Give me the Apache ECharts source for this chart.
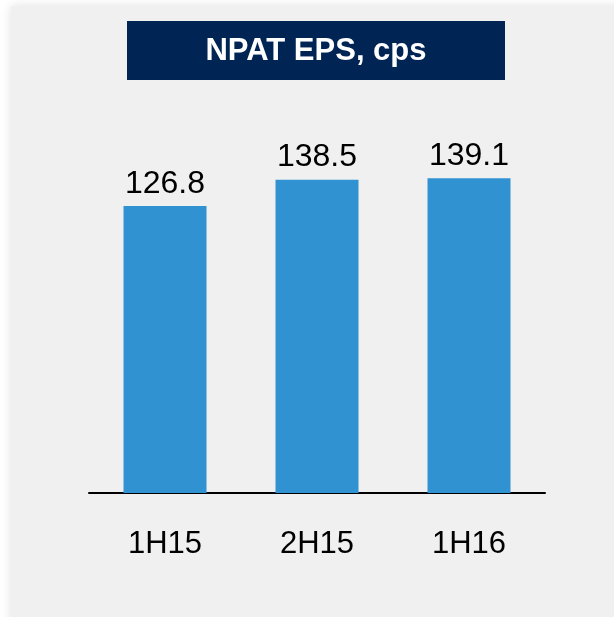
<!DOCTYPE html>
<html>
<head>
<meta charset="utf-8">
<script src="https://cdn.jsdelivr.net/npm/echarts@6/dist/echarts.min.js"></script>
<style>
  html, body { margin: 0; padding: 0; background: #ffffff; }
  #main { width: 614px; height: 617px; }
</style>
</head>
<body>
<div id="main"></div>
<script>
var categories = ['1H15', '2H15', '1H16'];
var epsValues = [126.8, 138.5, 139.1];
var chartTitle = 'NPAT EPS, cps';

var myChart = echarts.init(document.getElementById('main'));
var option = {
    backgroundColor: '#ffffff',
    animation: false,
    graphic: [
        {
            type: 'rect',
            z: -10,
            shape: { x: 11, y: 6, width: 620, height: 620 },
            style: {
                fill: '#f0f0f0',
                shadowBlur: 10,
                shadowColor: 'rgba(0,0,0,0.12)'
            }
        },
        {
            type: 'rect',
            shape: { x: 127, y: 21, width: 378, height: 59 },
            style: { fill: '#002454' }
        },
        {
            type: 'text',
            x: 316,
            y: 51,
            style: {
                text: chartTitle,
                fill: '#ffffff',
                font: 'bold 31px "Liberation Sans", Arial, sans-serif',
                textAlign: 'center',
                textVerticalAlign: 'middle'
            }
        }
    ],
    grid: {
        left: 89,
        right: 69,
        top: 131,
        bottom: 124
    },
    xAxis: {
        type: 'category',
        data: categories,
        axisLine: { lineStyle: { color: '#000000', width: 2 } },
        axisTick: { show: false },
        axisLabel: {
            margin: 36,
            color: '#000000',
            fontSize: 31,
            fontFamily: '"Liberation Sans", Arial, sans-serif'
        }
    },
    yAxis: {
        type: 'value',
        min: 0,
        max: 160,
        show: false,
        splitLine: { show: false }
    },
    series: [{
        type: 'bar',
        data: epsValues,
        barWidth: 83,
        itemStyle: { color: '#3092d0' },
        label: {
            show: true,
            position: 'top',
            distance: 6,
            color: '#000000',
            fontSize: 32,
            fontFamily: '"Liberation Sans", Arial, sans-serif'
        }
    }]
};
myChart.setOption(option);
</script>
</body>
</html>
